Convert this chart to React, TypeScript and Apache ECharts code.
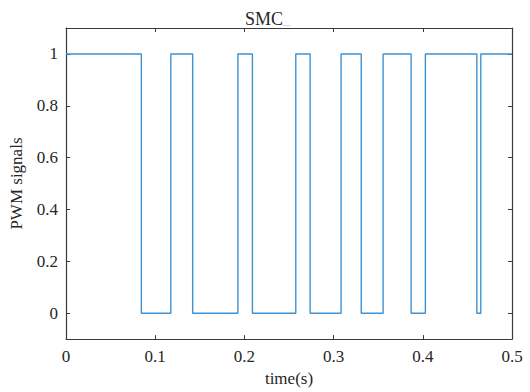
import React, { useEffect, useRef } from "react";
import * as echarts from "echarts";

const switchTimes = [0, 0.0845, 0.1175, 0.142, 0.1927, 0.209, 0.2576, 0.2737, 0.3084, 0.331, 0.3555, 0.3869, 0.4029, 0.4606, 0.465, 0.5];
const levels = [1, 0, 1, 0, 1, 0, 1, 0, 1, 0, 1, 0, 1, 0, 1, 1];
const xTicks = [0, 0.1, 0.2, 0.3, 0.4, 0.5];
const yTicks = [0, 0.2, 0.4, 0.6, 0.8, 1];

const FONT = "'Liberation Serif', 'Times New Roman', serif";
const AXIS_COLOR = "#3a3a3a";
const TEXT_COLOR = "#262626";

export default function App() {
  const ref = useRef<HTMLDivElement>(null);
  useEffect(() => {
    if (!ref.current) return;
    const chart = echarts.init(ref.current, undefined, { renderer: "svg" });
    const data = switchTimes.map((t, i) => [t, levels[i]]);
    const axisCommon = {
      type: "value",
      axisLine: { show: true, onZero: false, lineStyle: { color: AXIS_COLOR, width: 1.2 } },
      axisTick: { show: true, inside: true, length: 4, lineStyle: { color: AXIS_COLOR } },
      splitLine: { show: false },
    };
    chart.setOption({
      animation: false,
      backgroundColor: "#ffffff",
      title: {
        text: "SMC{u|_}",
        left: 240,
        top: 5,
        textStyle: {
          fontFamily: FONT,
          fontSize: 18,
          fontWeight: "normal",
          color: TEXT_COLOR,
          rich: { u: { fontFamily: FONT, fontSize: 14, color: "#cfcfcf" } },
        },
      },
      grid: { left: 61, right: 18, top: 28, bottom: 49 },
      xAxis: [
        {
          ...axisCommon,
          position: "bottom",
          min: 0,
          max: 0.5,
          axisTick: { ...axisCommon.axisTick, customValues: xTicks },
          axisLabel: {
            customValues: xTicks,
            fontFamily: FONT,
            fontSize: 17,
            color: TEXT_COLOR,
            margin: 9,
            formatter: (v: number) => String(Math.round(v * 10) / 10),
          },
          name: "time(s)",
          nameLocation: "middle",
          nameGap: 30,
          nameTextStyle: { fontFamily: FONT, fontSize: 17, color: TEXT_COLOR },
        },
        {
          ...axisCommon,
          position: "top",
          min: 0,
          max: 0.5,
          axisTick: { ...axisCommon.axisTick, customValues: xTicks },
          axisLabel: { show: false },
        },
      ],
      yAxis: [
        {
          ...axisCommon,
          position: "left",
          min: -0.1,
          max: 1.1,
          axisTick: { ...axisCommon.axisTick, customValues: yTicks },
          axisLabel: {
            customValues: yTicks,
            fontFamily: FONT,
            fontSize: 17,
            color: TEXT_COLOR,
            margin: 8,
            formatter: (v: number) => String(Math.round(v * 10) / 10),
          },
          name: "PWM signals",
          nameLocation: "middle",
          nameGap: 41,
          nameTextStyle: { fontFamily: FONT, fontSize: 17, color: TEXT_COLOR },
        },
        {
          ...axisCommon,
          position: "right",
          min: -0.1,
          max: 1.1,
          axisTick: { ...axisCommon.axisTick, customValues: yTicks },
          axisLabel: { show: false },
        },
      ],
      series: [
        {
          type: "line",
          step: "end",
          data,
          xAxisIndex: 0,
          yAxisIndex: 0,
          showSymbol: false,
          symbol: "none",
          lineStyle: { color: "#3d92d3", width: 1.4 },
        },
      ],
    });
    return () => chart.dispose();
  }, []);
  return (
    <div
      ref={ref}
      style={{ position: "absolute", left: 0, top: 0, width: 530, height: 392 }}
    />
  );
}
